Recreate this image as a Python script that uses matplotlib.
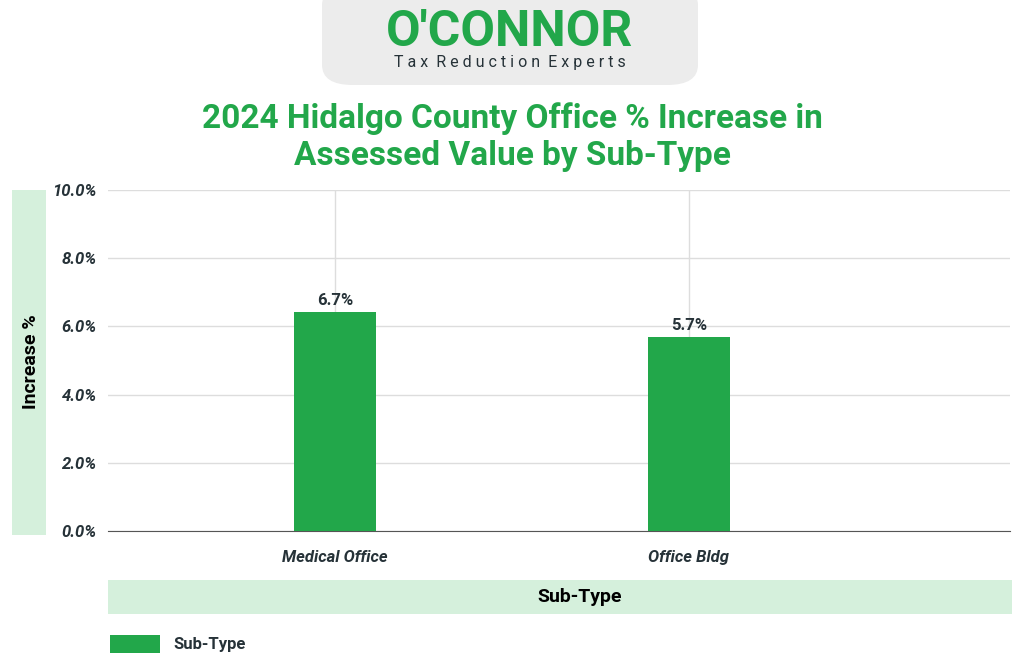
import matplotlib.pyplot as plt
from matplotlib.patches import FancyBboxPatch, Rectangle

categories = ["Medical Office", "Office Bldg"]
bar_values = [6.41, 5.68]
bar_labels = ["6.7%", "5.7%"]
yticks = [0, 2, 4, 6, 8, 10]

green = "#22a74a"
light = "#d5f0dc"
dark = "#263238"
plt.rcParams["font.family"] = "Roboto"

fig = plt.figure(figsize=(10.24, 6.72), dpi=100)
W, H = 1024, 672

def box(x0, y0, x1, y1):
    return [x0 / W, 1 - y1 / H, (x1 - x0) / W, (y1 - y0) / H]

# logo
fig.patches.append(FancyBboxPatch((322 / W, 1 - 85 / H), 376 / W, 100 / H,
                                  boxstyle="round,pad=0,rounding_size=0.03",
                                  transform=fig.transFigure, facecolor="#ececec",
                                  edgecolor="none"))
fig.text(510 / W, 1 - 32 / H, "O'CONNOR", ha="center", va="center",
         fontsize=36, fontweight="bold", color=green)
fig.text(510 / W, 1 - 62 / H, "T a x  R e d u c t i o n  E x p e r t s", ha="center",
         va="center", fontsize=11.5, color=dark)

fig.text(512 / W, 1 - 137 / H, "2024 Hidalgo County Office % Increase in\nAssessed Value by Sub-Type",
         ha="center", va="center", fontsize=24, fontweight="bold", color=green,
         linespacing=1.2)

ax = fig.add_axes(box(108, 190, 1010, 531))
x = range(len(categories))
ax.bar(x, bar_values, width=0.23, color=green, zorder=3)
for xi, v, lab in zip(x, bar_values, bar_labels):
    ax.text(xi, v + 0.12, lab, ha="center", va="bottom", fontsize=12,
            fontweight="bold", color=dark)
ax.set_xlim(-0.641, 1.907)
ax.set_ylim(0, 10)
ax.set_yticks(yticks)
ax.set_yticklabels([f"{t:.1f}%" for t in yticks], fontsize=12, fontweight="bold",
                   style="italic", color=dark)
ax.set_xticks(list(x))
ax.set_xticklabels(categories, fontsize=12, fontweight="bold", style="italic", color=dark)
ax.tick_params(length=0, pad=14)
ax.tick_params(axis="y", pad=8)
ax.grid(True, color="#dddddd", lw=1, zorder=0)
for s in ["top", "right", "left"]:
    ax.spines[s].set_visible(False)
ax.spines["bottom"].set_color("#555555")

# y label band
fig.patches.append(Rectangle((12 / W, 1 - 535 / H), 34 / W, 345 / H,
                             transform=fig.transFigure, facecolor=light, edgecolor="none"))
fig.text(31 / W, 1 - 362 / H, "Increase %", rotation=90, ha="center", va="center",
         fontsize=14, fontweight="bold", color="black")
# x label band
fig.patches.append(Rectangle((108 / W, 1 - 614 / H), 904 / W, 34 / H,
                             transform=fig.transFigure, facecolor=light, edgecolor="none"))
fig.text(580 / W, 1 - 597 / H, "Sub-Type", ha="center", va="center",
         fontsize=14, fontweight="bold", color="black")
# legend
fig.patches.append(Rectangle((110 / W, 1 - 653 / H), 50 / W, 18 / H,
                             transform=fig.transFigure, facecolor=green, edgecolor="none"))
fig.text(173 / W, 1 - 644 / H, "Sub-Type", ha="left", va="center",
         fontsize=12, fontweight="bold", color=dark)

fig.savefig("out.png", dpi=100)
